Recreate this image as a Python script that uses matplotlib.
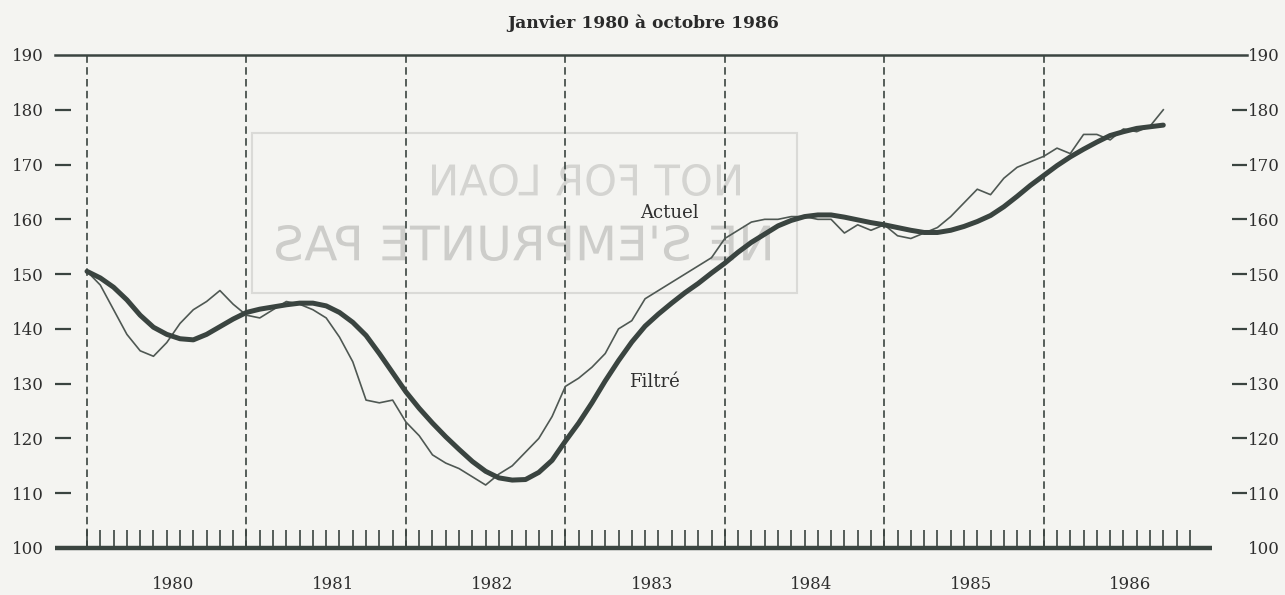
import numpy as np
import matplotlib
matplotlib.use('Agg')
import matplotlib.pyplot as plt
from matplotlib.textpath import TextPath
from matplotlib.patches import PathPatch, Rectangle
from matplotlib.font_manager import FontProperties
from matplotlib.transforms import Affine2D

# monthly index, 0 = janvier 1980 ... 81 = octobre 1986
actuel = [150.5, 148.0, 143.5, 139.0, 136.0, 135.0, 137.5, 141.0, 143.5, 145.0, 147.0, 144.5,
          142.5, 142.0, 143.5, 145.0, 144.5, 143.5, 142.0, 138.5, 134.0, 127.0, 126.5, 127.0,
          123.0, 120.5, 117.0, 115.5, 114.5, 113.0, 111.5, 113.5, 115.0, 117.5, 120.0, 124.0,
          129.5, 131.0, 133.0, 135.5, 140.0, 141.5, 145.5, 147.0, 148.5, 150.0, 151.5, 153.0,
          156.5, 158.0, 159.5, 160.0, 160.0, 160.5, 160.5, 160.0, 160.0, 157.5, 159.0, 158.0,
          159.0, 157.0, 156.5, 157.5, 158.5, 160.5, 163.0, 165.5, 164.5, 167.5, 169.5, 170.5,
          171.5, 173.0, 172.0, 175.5, 175.5, 174.5, 176.5, 176.0, 177.0, 180.0]
filtre = [150.5, 149.3, 147.6, 145.3, 142.5, 140.3, 139.0, 138.2, 138.0, 139.0, 140.4, 141.8,
          143.0, 143.6, 144.0, 144.4, 144.7, 144.7, 144.2, 143.0, 141.2, 138.8, 135.5, 132.0,
          128.5, 125.5, 122.8, 120.3, 118.0, 115.8, 114.0, 112.8, 112.4, 112.5, 113.8, 116.0,
          119.5, 122.8, 126.5, 130.5, 134.2, 137.6, 140.5, 142.7, 144.7, 146.6, 148.3, 150.2,
          152.0, 154.0, 155.8, 157.3, 158.8, 159.8, 160.5, 160.8, 160.8, 160.4, 159.9, 159.4,
          159.0, 158.5, 158.0, 157.6, 157.6, 158.0, 158.7, 159.6, 160.7, 162.3, 164.2, 166.2,
          168.0, 169.8, 171.4, 172.8, 174.1, 175.3, 176.0, 176.6, 176.9, 177.2]
years = [1980, 1981, 1982, 1983, 1984, 1985, 1986]
yticks = [110, 120, 130, 140, 150, 160, 170, 180]
yends = [100, 190]

months = np.arange(len(actuel))
INK = '#3a4440'
SERIF = 'DejaVu Serif'

fig = plt.figure(figsize=(12.85, 5.95), dpi=100, facecolor='#f4f4f1')

# faint show-through stamp from the back of the page
box = Rectangle((252/1285, 1-293/595), 545/1285, 160/595, transform=fig.transFigure,
                fill=False, edgecolor='#dadad7', lw=1.5, zorder=0)
fig.add_artist(box)


def mirrored(s, x0, x1, yc, h, col):
    tp = TextPath((0, 0), s, size=1, prop=FontProperties(family='DejaVu Sans'))
    e = tp.get_extents()
    tr = (Affine2D().translate(-e.x0 - e.width/2, -e.y0 - e.height/2)
          .scale(-(x1 - x0)/e.width, h/e.height)
          .translate((x0 + x1)/2, 595 - yc))
    fig.add_artist(PathPatch(tr.transform_path(tp), facecolor=col, edgecolor='none',
                             transform=None, zorder=0))


mirrored("NOT FOR LOAN", 432, 740, 180, 32, '#d4d4d1')
mirrored("NE S'EMPRUNTE PAS", 276, 770, 243, 36, '#cdcdca')

ax = fig.add_axes([55/1285, 1-548/595, 1192/1285, 493/595])
ax.set_facecolor('none')
ax.set_xlim(-2.41, 87.3)
ax.set_ylim(100, 190)
for s in ax.spines.values():
    s.set_visible(False)

# frame lines
ax.plot([-2.41, 84.7], [100, 100], color=INK, lw=3.2, solid_capstyle='butt', clip_on=False)
ax.axhline(190, color=INK, lw=1.8, clip_on=False)
ax.vlines(np.arange(0, 73, 12), 100, 190, colors=INK, lw=1.2, linestyles=(0, (4.5, 2.6)))

ax.plot(months, actuel, color='#4f5853', lw=1.2)
ax.plot(months, filtre, color=INK, lw=3.6, solid_capstyle='round', solid_joinstyle='round')

ax.text(43.8, 161.2, 'Actuel', ha='center', va='center', fontsize=13, family=SERIF, color='#2e2e2e')
ax.text(42.7, 130.3, 'Filtré', ha='center', va='center', fontsize=13, family=SERIF, color='#2e2e2e')

# x axis: month ticks, year labels
ax.set_xticks(np.arange(0, 84))
ax.tick_params(axis='x', which='major', direction='in', length=13, width=1.2, color=INK,
               labelbottom=False)
ax.set_xticks([12*i + 6.5 for i in range(len(years))], labels=[str(y) for y in years], minor=True)
ax.tick_params(axis='x', which='minor', length=0, pad=20, labelsize=12, labelcolor='#2e2e2e')

# y axis left
ax.set_yticks(yticks, labels=[str(v) for v in yticks])
ax.set_yticks(yends, labels=[str(v) for v in yends], minor=True)
ax.tick_params(axis='y', which='major', direction='in', length=11.5, width=1.6, color=INK, pad=8)
ax.tick_params(axis='y', which='minor', length=0, pad=8)
ax.tick_params(axis='y', which='both', labelsize=12, labelcolor='#2e2e2e')

# y axis right
ax2 = ax.twinx()
ax2.set_ylim(100, 190)
for s in ax2.spines.values():
    s.set_visible(False)
ax2.set_yticks(yticks, labels=[str(v) for v in yticks])
ax2.set_yticks(yends, labels=[str(v) for v in yends], minor=True)
ax2.tick_params(axis='y', which='major', direction='in', length=11, width=1.6, color=INK, pad=1)
ax2.tick_params(axis='y', which='minor', length=0, pad=1)
ax2.tick_params(axis='y', which='both', labelsize=12, labelcolor='#2e2e2e')

for t in ax.get_xticklabels(minor=True) + ax.get_yticklabels() + ax.get_yticklabels(minor=True) \
        + ax2.get_yticklabels() + ax2.get_yticklabels(minor=True):
    t.set_family(SERIF)

fig.text(643/1285, 1-23/595, 'Janvier 1980 à octobre 1986', ha='center', va='center',
         fontsize=12.3, fontweight='bold', family=SERIF, color='#2a2a2a')

fig.savefig('out.png', dpi=100, facecolor=fig.get_facecolor())
